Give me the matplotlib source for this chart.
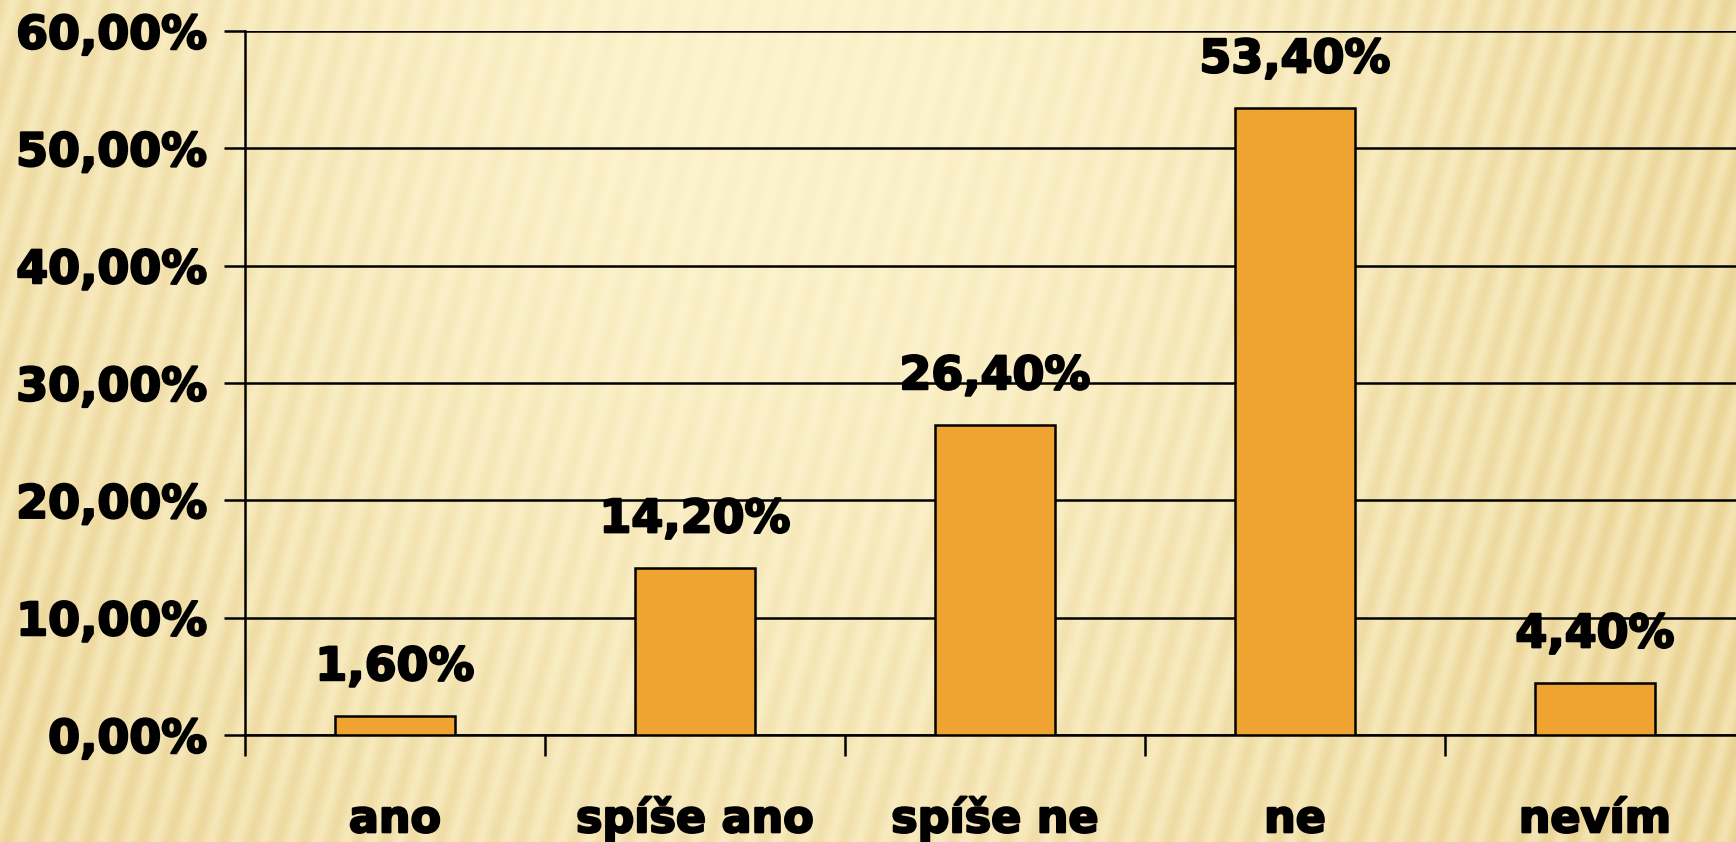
import numpy as np
import matplotlib.pyplot as plt
import matplotlib.patheffects as pe
from matplotlib.ticker import FuncFormatter

categories = ["ano", "spíše ano", "spíše ne", "ne", "nevím"]
values = [1.6, 14.2, 26.4, 53.4, 4.4]
y_ticks = [0, 10, 20, 30, 40, 50, 60]

plt.rcParams['font.family'] = ['DejaVu Sans']
plt.rcParams['font.weight'] = 'bold'

W, H = 1736, 842
fig = plt.figure(figsize=(W / 100, H / 100), dpi=100)

# background: cream gradient with slanted soft stripes
yy, xx = np.mgrid[0:H, 0:W].astype(float)
u = xx / W
v = yy / H
stripe = 0.5 + 0.5 * np.sin(2 * np.pi * (xx - 0.28 * (H - yy)) / 27.0)
light = np.exp(-((u - 0.45) ** 2) / 0.22 - (v ** 2) / 1.6)
c_light = np.array([252, 242, 204]) / 255
c_dark = np.array([232, 208, 142]) / 255
amp = 0.45 * (1 - light) + 0.1
t = np.clip(0.8 * (1 - light) + amp * (stripe - 0.5), 0, 1)[..., None]
bg = c_light * (1 - t) + c_dark * t
bax = fig.add_axes([0, 0, 1, 1])
bax.imshow(bg, aspect='auto', interpolation='bilinear')
bax.axis('off')

ax = fig.add_axes([245 / W, (H - 735) / H, 1500 / W, 704 / H])
ax.patch.set_alpha(0)
x = np.arange(len(categories))
bars = ax.bar(x, values, width=0.4, color='#EFA431', edgecolor='black',
              linewidth=1.8, zorder=3)

ax.set_xlim(-0.5, len(categories) - 0.5)
ax.set_ylim(0, 60)
ax.set_yticks(y_ticks)
ax.yaxis.set_major_formatter(FuncFormatter(lambda val, p: f"{val:.2f}".replace('.', ',') + '%'))
ax.grid(axis='y', color='black', linewidth=1.8, zorder=1)
ax.set_axisbelow(True)

ax.set_xticks(x)
ax.set_xticklabels(categories)
plt.setp(ax.get_xticklabels(), va='baseline')
ax.set_xticks(np.arange(len(categories) + 1) - 0.5, minor=True)
ax.tick_params(axis='x', which='major', length=0, pad=70, labelsize=32)
ax.tick_params(axis='x', which='minor', length=15, width=1.8, direction='out')
ax.tick_params(axis='y', length=15, width=1.8, direction='out', pad=12, labelsize=33)

for s in ['top', 'right']:
    ax.spines[s].set_visible(False)
for s in ['left', 'bottom']:
    ax.spines[s].set_linewidth(1.8)

for b, val in zip(bars, values):
    ax.annotate(f"{val:.2f}".replace('.', ',') + '%',
                (b.get_x() + b.get_width() / 2, b.get_height()),
                xytext=(0, 26), textcoords='offset points',
                ha='center', va='baseline', fontsize=33, fontweight='bold')

# heavier glyphs, like the original typeface
heavy = [pe.withStroke(linewidth=1.6, foreground='black')]
for txt in ax.texts + ax.get_xticklabels() + ax.get_yticklabels():
    txt.set_path_effects(heavy)

fig.savefig('out.png', dpi=100)
